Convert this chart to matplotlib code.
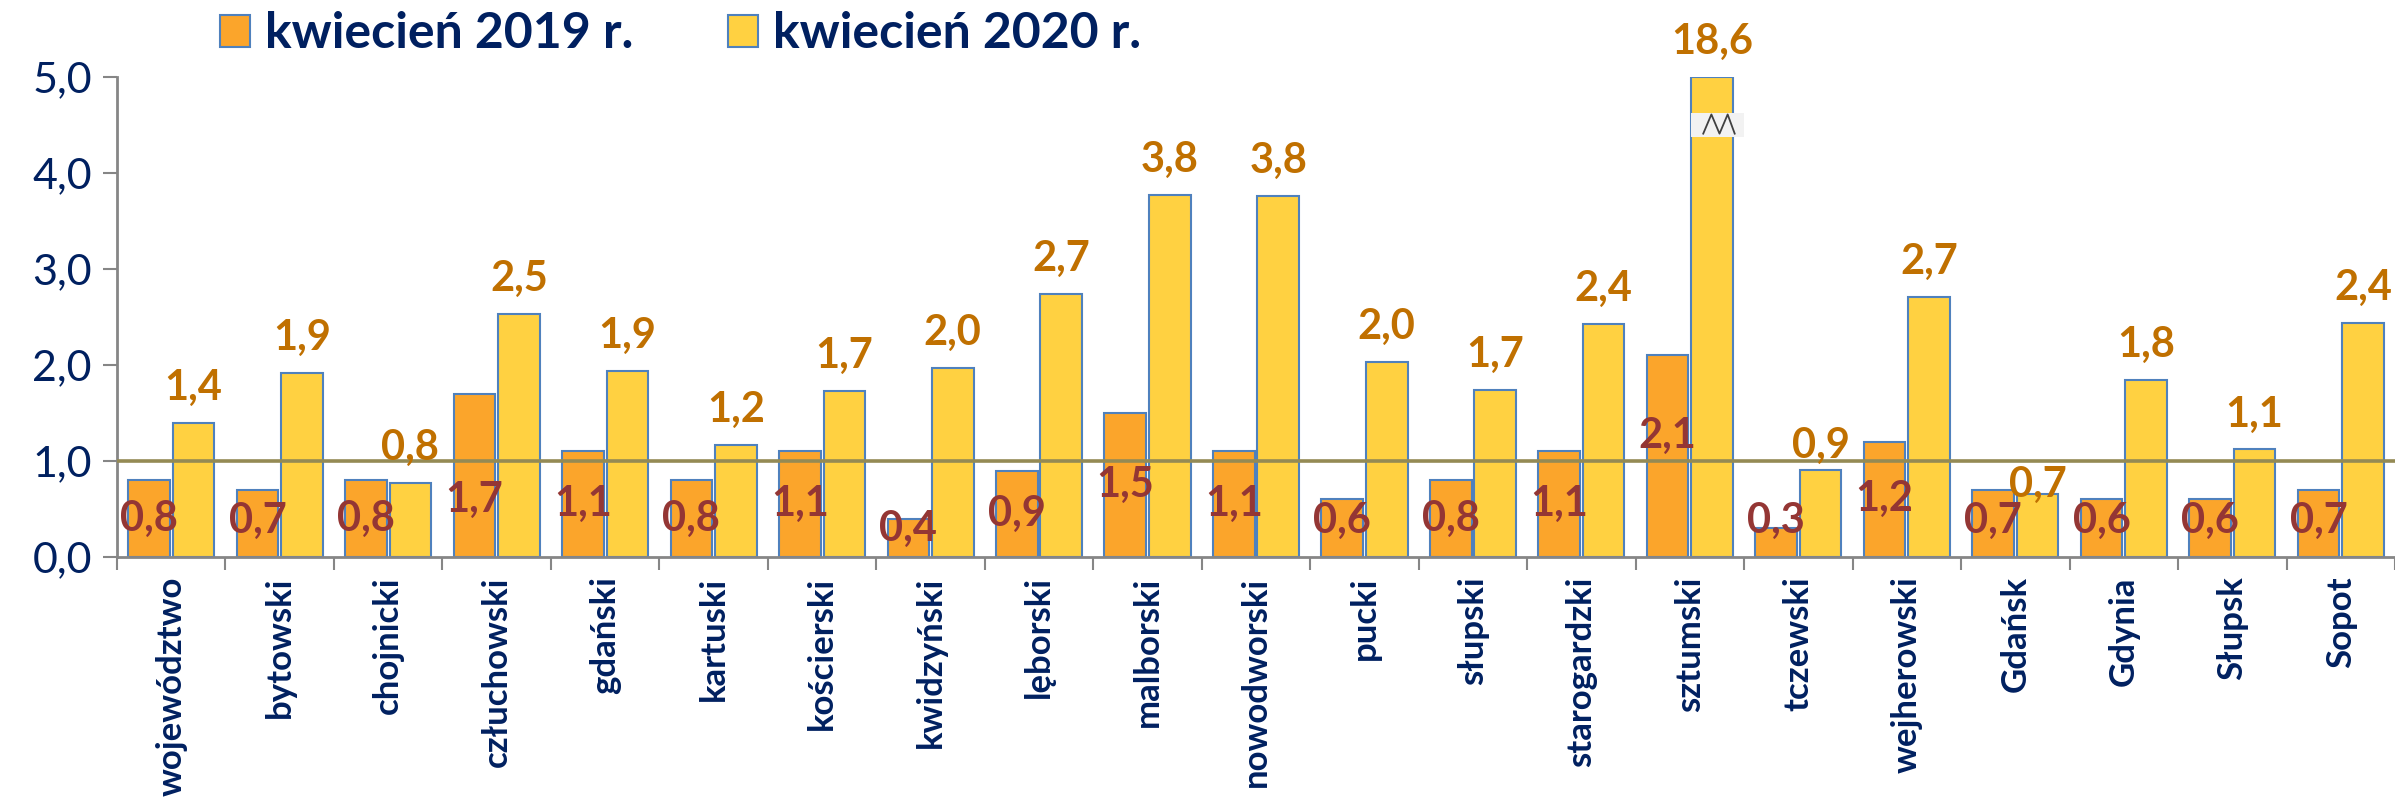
import matplotlib.pyplot as plt
from matplotlib.patches import Rectangle

plt.rcParams['font.family'] = ['Lato', 'DejaVu Sans']

categories = ['województwo', 'bytowski', 'chojnicki', 'człuchowski', 'gdański',
              'kartuski', 'kościerski', 'kwidzyński', 'lęborski', 'malborski',
              'nowodworski', 'pucki', 'słupski', 'starogardzki', 'sztumski',
              'tczewski', 'wejherowski', 'Gdańsk', 'Gdynia', 'Słupsk', 'Sopot']
apr_2019 = [0.8, 0.7, 0.8, 1.7, 1.1, 0.8, 1.1, 0.4, 0.9, 1.5, 1.1,
            0.6, 0.8, 1.1, 2.1, 0.3, 1.2, 0.7, 0.6, 0.6, 0.7]
apr_2020 = [1.40, 1.92, 0.77, 2.53, 1.94, 1.17, 1.73, 1.97, 2.74, 3.77, 3.76,
            2.03, 1.74, 2.43, 18.6, 0.91, 2.71, 0.66, 1.84, 1.12, 2.44]
legend_labels = ['kwiecień 2019 r.', 'kwiecień 2020 r.']
ref_level = 1.0
ymax = 5.0

navy = '#002060'
c19, c20 = '#FBA52B', '#FFD141'
edge = '#4F81BD'
lab19, lab20 = '#943634', '#C07000'

def fmt(v):
    return ('%.1f' % v).replace('.', ',')

fig = plt.figure(figsize=(23.95, 7.99), dpi=100)
ax = fig.add_axes([117/2395, 1-557/799, 1-117/2395, (557-77)/799])

x = list(range(len(categories)))
w = 0.384
off = 0.205
b19 = ax.bar([i - off for i in x], apr_2019, w, color=c19, edgecolor=edge, lw=1.5,
             label=legend_labels[0], zorder=2)
b20 = ax.bar([i + off for i in x], [min(v, ymax) for v in apr_2020], w, color=c20,
             edgecolor=edge, lw=1.5, label=legend_labels[1], zorder=2)

ax.axhline(ref_level, color='#948A54', lw=2.6, zorder=3)

# 2019 labels inside bars (a few were moved by hand in the original)
lab19_y = {'człuchowski': 0.59, 'sztumski': 1.26, 'kwidzyński': 0.29}
for i, v in enumerate(apr_2019):
    y = lab19_y.get(categories[i], max(v / 2, 0.38))
    ax.text(i - off, y, fmt(v), ha='center', va='center', color=lab19,
            fontsize=30, fontweight='bold', zorder=5)

# 2020 labels above bars
nudge20 = {'tczewski': -11, 'Gdańsk': -26}
for i, v in enumerate(apr_2020):
    dy = 35 + nudge20.get(categories[i], 0)
    ax.annotate(fmt(v), (i + off, min(v, ymax)), xytext=(0, dy * 0.72),
                textcoords='offset points', ha='center', va='center',
                color=lab20, fontsize=30, fontweight='bold', zorder=5,
                annotation_clip=False)
    if v > ymax:
        xl = i + off - w / 2
        ax.add_patch(Rectangle((xl, 4.37), w + 0.1, 0.26, facecolor='#F2F2F2',
                               edgecolor='none', zorder=4, clip_on=False))
        ax.plot([xl + d for d in (0.11, 0.185, 0.26, 0.335, 0.40)],
                [4.41, 4.61, 4.41, 4.61, 4.41], color='#404040', lw=1.3, zorder=5)

ax.set_xlim(-0.5, len(categories) - 0.5)
ax.set_ylim(0, ymax)
ax.set_yticks([0, 1, 2, 3, 4, 5])
ax.set_yticklabels([fmt(t) for t in [0, 1, 2, 3, 4, 5]], fontsize=31, color=navy)
ax.tick_params(axis='y', length=10, width=1.5, color='#868686', pad=8)

ax.set_xticks([i - 0.5 for i in range(len(categories) + 1)])
ax.set_xticklabels([])
ax.tick_params(axis='x', which='major', length=9, width=1.5, color='#868686')
ax.set_xticks(x, minor=True)
ax.set_xticklabels(categories, minor=True, rotation=90, fontsize=25,
                   fontweight='bold', color=navy, va='top')
ax.tick_params(axis='x', which='minor', length=0, pad=14)

for s in ['top', 'right']:
    ax.spines[s].set_visible(False)
for s in ['left', 'bottom']:
    ax.spines[s].set_color('#868686')
    ax.spines[s].set_linewidth(2)

fig.legend(handles=[b19, b20], labels=legend_labels, ncol=2, loc='center left',
           bbox_to_anchor=(220/2395, 1-34/799), frameon=False, borderpad=0,
           borderaxespad=0, handlelength=0.6, handleheight=0.6,
           handletextpad=0.3, columnspacing=1.9,
           prop={'size': 36, 'weight': 'bold'}, labelcolor=navy)

fig.savefig('out.png', dpi=100)
